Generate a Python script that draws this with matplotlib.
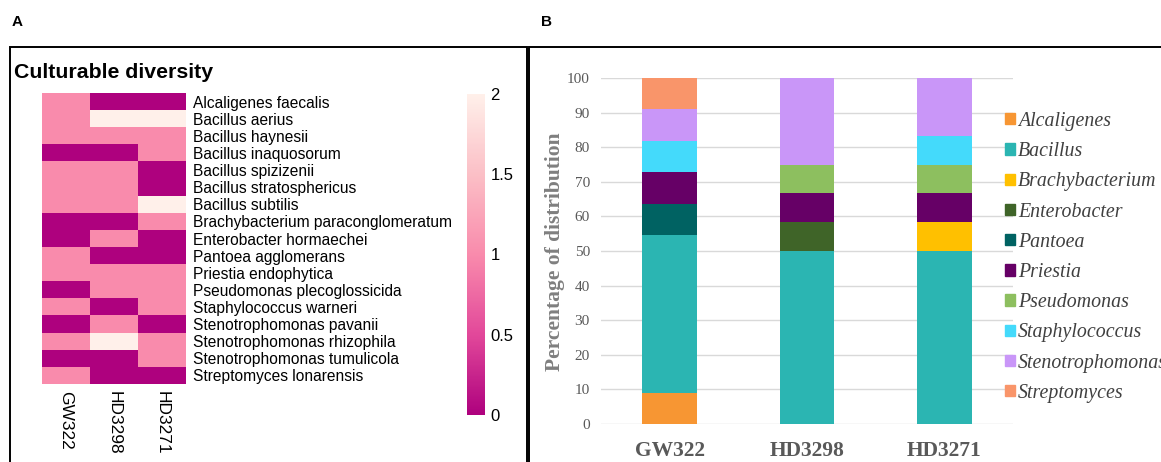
import numpy as np
import matplotlib; matplotlib.use("Agg")
import matplotlib.pyplot as plt
from matplotlib.colors import LinearSegmentedColormap
from matplotlib.patches import Rectangle, Patch

W, H = 1161, 462
SANS = "Liberation Sans"; SERIF = "Liberation Serif"

# ---- panel A data: isolate counts per genotype ----
samples = ["GW322", "HD3298", "HD3271"]
species = ["Alcaligenes faecalis", "Bacillus aerius", "Bacillus haynesii", "Bacillus inaquosorum",
           "Bacillus spizizenii", "Bacillus stratosphericus", "Bacillus subtilis",
           "Brachybacterium paraconglomeratum", "Enterobacter hormaechei", "Pantoea agglomerans",
           "Priestia endophytica", "Pseudomonas plecoglossicida", "Staphylococcus warneri",
           "Stenotrophomonas pavanii", "Stenotrophomonas rhizophila", "Stenotrophomonas tumulicola",
           "Streptomyces lonarensis"]
gw322  = [1, 1, 1, 0, 1, 1, 1, 0, 0, 1, 1, 0, 1, 0, 1, 0, 1]
hd3298 = [0, 2, 1, 0, 1, 1, 1, 0, 1, 0, 1, 1, 0, 1, 2, 0, 0]
hd3271 = [0, 2, 1, 1, 0, 0, 2, 1, 0, 0, 1, 1, 1, 0, 1, 1, 0]

# ---- panel B data: % distribution of genera ----
genera = ["Alcaligenes", "Bacillus", "Brachybacterium", "Enterobacter", "Pantoea",
          "Priestia", "Pseudomonas", "Staphylococcus", "Stenotrophomonas", "Streptomyces"]
pct_gw322  = [9.09, 45.45, 0, 0, 9.09, 9.09, 0, 9.09, 9.09, 9.09]
pct_hd3298 = [0, 50.0, 0, 8.33, 0, 8.33, 8.33, 0, 25.0, 0]
pct_hd3271 = [0, 50.0, 8.33, 0, 0, 8.33, 8.33, 8.33, 16.67, 0]
gen_colors = ["#F79633", "#2BB5B2", "#FFC000", "#3F6428", "#006262",
              "#660066", "#8DBF5F", "#44DAFB", "#C996F8", "#F9956A"]

fig = plt.figure(figsize=(W/100, H/100), dpi=100)

def fx(px): return px / W
def fy(py): return 1 - py / H

# frames around panels
fig.patches.append(Rectangle((fx(10), fy(470)), fx(517), fy(47) - fy(470), transform=fig.transFigure,
                             fill=False, ec="black", lw=1.4))
fig.patches.append(Rectangle((fx(529), fy(470)), fx(700), fy(47) - fy(470), transform=fig.transFigure,
                             fill=False, ec="black", lw=1.4))
fig.text(fx(12), fy(22), "A", family=SANS, weight="bold", fontsize=11, va="center")
fig.text(fx(541), fy(22), "B", family=SANS, weight="bold", fontsize=11, va="center")

# ---- A: heatmap ----
cmap = LinearSegmentedColormap.from_list("pk", [(0, "#AE017E"), (0.25, "#E2489A"), (0.5, "#F98BAC"),
                                                (0.75, "#FBBFC6"), (1, "#FFF0EA")])
mat = np.array([gw322, hd3298, hd3271]).T
axh = fig.add_axes([fx(42), fy(384), fx(186) - fx(42), fy(93) - fy(384)])
im = axh.imshow(mat, cmap=cmap, vmin=0, vmax=2, aspect="auto", interpolation="nearest")
axh.set_yticks(range(len(species)))
axh.set_yticklabels(species, family=SANS, fontsize=11.2)
axh.yaxis.tick_right()
axh.set_xticks(range(len(samples)))
axh.set_xticklabels(samples, family=SANS, fontsize=12.5, rotation=-90, va="top", ha="center")
axh.tick_params(length=0, pad=5)
for s in axh.spines.values(): s.set_visible(False)
fig.text(fx(14), fy(72), "Culturable diversity", family=SANS, weight="bold", fontsize=15.3, va="center")

axc = fig.add_axes([fx(467), fy(415), fx(18), fy(94) - fy(415)])
cb = fig.colorbar(im, cax=axc, ticks=[0, 0.5, 1, 1.5, 2])
cb.outline.set_visible(False)
cb.ax.set_yticklabels(["0", "0.5", "1", "1.5", "2"], family=SANS, fontsize=12)
cb.ax.tick_params(length=0, pad=4)

# ---- B: stacked bars ----
axb = fig.add_axes([fx(601), fy(424), fx(1013) - fx(601), fy(78) - fy(424)])
x = np.arange(len(samples))
data = np.array([pct_gw322, pct_hd3298, pct_hd3271])
bottom = np.zeros(len(samples))
for j, g in enumerate(genera):
    axb.bar(x, data[:, j], 0.4, bottom=bottom, color=gen_colors[j], zorder=3)
    bottom += data[:, j]
axb.set_xlim(-0.5, 2.5); axb.set_ylim(0, 100)
axb.set_yticks(range(0, 101, 10))
axb.set_yticklabels([str(v) for v in range(0, 101, 10)], family=SERIF, fontsize=11, color="#595959")
axb.set_xticks(x)
axb.set_xticklabels(samples, family=SERIF, weight="bold", fontsize=15.5, color="#595959")
axb.tick_params(axis="y", length=0, pad=8)
axb.tick_params(axis="x", length=0, pad=12)
axb.grid(axis="y", color="#D9D9D9", lw=1, zorder=0)
for s in axb.spines.values(): s.set_visible(False)
fig.text(fx(555), fy(252), "Percentage of distribution", family=SERIF, weight="bold", fontsize=15.5,
         color="#7F7F7F", rotation=90, ha="center", va="center")

# legend runs off the right edge, as in the source figure
handles = [Patch(color=c) for c in gen_colors]
leg = fig.legend(handles, genera, loc="upper left", bbox_to_anchor=(fx(987), fy(94)),
                 frameon=False, handlelength=0.5, handleheight=0.5, handletextpad=0.15,
                 labelspacing=0.565, prop={"family": SERIF, "style": "italic", "size": 14.3})
for t in leg.get_texts(): t.set_color("#404040")

fig.savefig("out.png", dpi=100)
